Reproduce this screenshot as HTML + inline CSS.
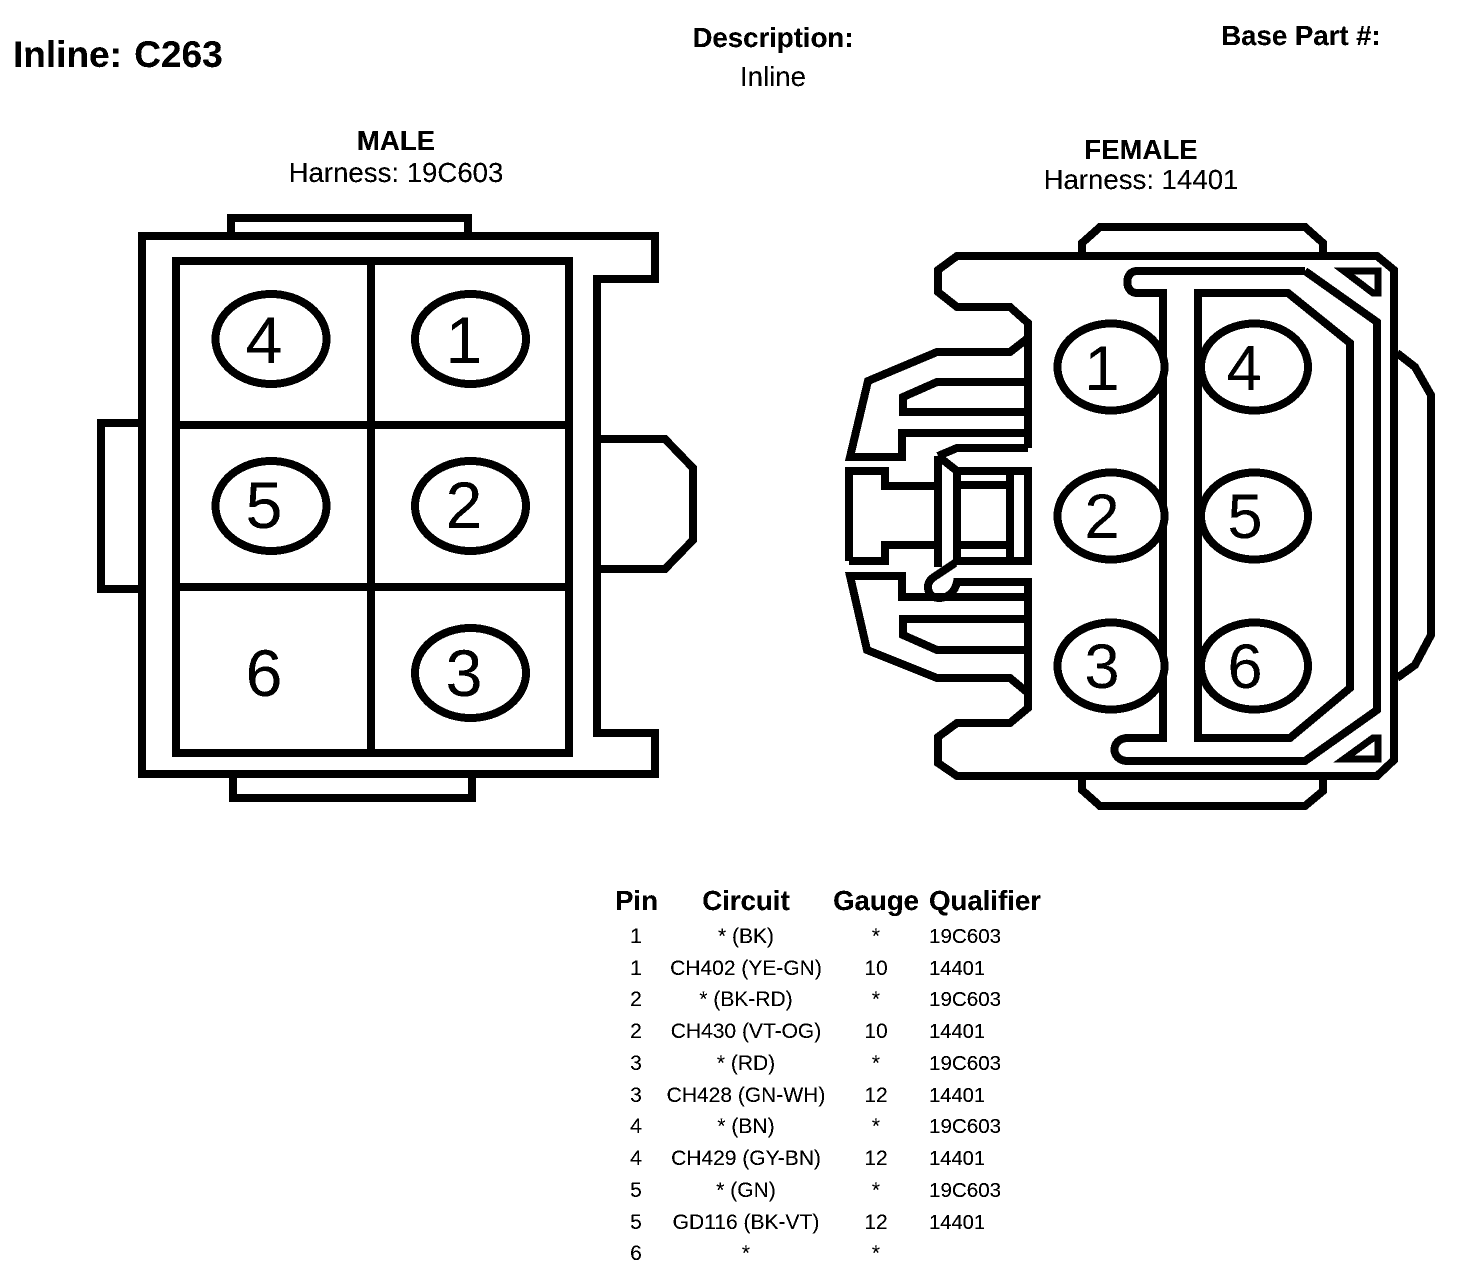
<!DOCTYPE html>
<html lang="en">
<head>
<meta charset="utf-8">
<title>Inline: C263</title>
<style>
html,body{margin:0;padding:0;background:#fff;width:1472px;height:1270px;overflow:hidden}
svg{display:block}
.l{fill:none;stroke:#000;stroke-width:8;stroke-linejoin:miter;stroke-linecap:butt;shape-rendering:crispEdges}
.c{fill:#fff;stroke:#000;stroke-width:8;shape-rendering:crispEdges}
text{font-family:"Liberation Sans",Arial,sans-serif;fill:#000}
.b{font-weight:bold}
.m{text-anchor:middle}
.d{font-size:66px;text-anchor:middle}
.f{font-size:63px;text-anchor:middle}
.h{font-size:27.6px}
.r{font-size:21px}
.q{font-size:20.6px}
.p{font-size:20.2px}
</style>
</head>
<body>
<svg width="1472" height="1270" viewBox="0 0 1472 1270" xmlns="http://www.w3.org/2000/svg">
<defs>
<filter id="t" x="0" y="0" width="100%" height="100%" filterUnits="objectBoundingBox" color-interpolation-filters="sRGB">
<feComponentTransfer><feFuncA type="discrete" tableValues="0 1 1"/></feComponentTransfer>
</filter>
</defs>
<rect width="1472" height="1270" fill="#fff"/>

<!-- MALE connector -->
<g>
<path class="l" d="M142 236 H655 V279 H597 V733 H655 V774 H142 Z"/>
<path class="l" d="M231 236 V218 H468 V236"/>
<path class="l" d="M233 774 V798 H472 V774"/>
<path class="l" d="M142 423 H101 V589 H142"/>
<path class="l" d="M597 439 H665 L693 468 V540 L665 569 H597"/>
<rect class="l" x="176" y="261" width="393" height="492"/>
<path class="l" d="M371 261 V753 M176 425 H569 M176 587 H569"/>
<ellipse class="c" cx="271" cy="339" rx="55.5" ry="45"/>
<ellipse class="c" cx="470.5" cy="339" rx="55.5" ry="45"/>
<ellipse class="c" cx="271" cy="506" rx="55.5" ry="45"/>
<ellipse class="c" cx="470.5" cy="506" rx="55.5" ry="45"/>
<ellipse class="c" cx="470.5" cy="673" rx="55.5" ry="45"/>
</g>

<!-- FEMALE connector -->
<g>
<path class="l" d="M1028 448 V323 L1010 307 H957 L938 292 V270 L957 256 H1377 L1394 270 V760 L1377 776 H957 L938 763 V737 L957 723 H1010 L1028 708 V693 L1010 678 H937 L867 650 L850 576 H902 V597 H1028"/>
<path class="l" d="M1028 448 H957 L938 456"/>
<path class="l" d="M1028 338 L1010 352 H937 L868 381 L850 457 H902 V433 H1028"/>
<path class="l" d="M1028 382 H937 L903 397 V412 H1028"/>
<path class="l" d="M1028 619 H903 V635 L937 650 H1028"/>
<path class="l" d="M1028 693 V582 H957 C955 592 948 598 939 598 C931 598 928 592 928 587 C928 581 932 578 937 575 L955 563"/>
<path class="l" d="M849 561 V471 H885 V486 H938"/>
<path class="l" d="M849 561 H885 V545 H938"/>
<path class="l" d="M938 456 V567"/>
<path class="l" d="M938 456 L957 471"/>
<path class="l" d="M957 561 V471 H1028 V561 Z"/>
<path class="l" d="M1010 471 V561 M957 485 H1010 M957 545 H1010"/>
<path class="l" d="M1082 256 V243 L1100 227 H1305 L1323 243 V256"/>
<path class="l" d="M1082 776 V790 L1100 806 H1305 L1323 791 V776"/>
<path class="l" d="M1305 271 H1137 C1124 271 1124 293 1137 293 H1163 V738 H1128 C1110 738 1110 761 1128 761 H1305 L1377 710 V322 L1305 271"/>
<path class="l" d="M1198 293 H1288 L1350 343 V688 L1290 738 H1198 Z"/>
<path class="l" style="stroke-width:7" d="M1344 271 H1378 V293 L1373 293 Z"/>
<path class="l" style="stroke-width:7" d="M1344 759 H1378 V738 L1373 738 Z"/>
<path class="l" d="M1397 353 L1415 367 L1431 395 V635 L1415 665 L1397 678"/>
<ellipse class="c" cx="1111" cy="367" rx="53.5" ry="43.5"/>
<ellipse class="c" cx="1254.500" cy="367" rx="53.5" ry="43.5"/>
<ellipse class="c" cx="1111" cy="516" rx="53.5" ry="43.5"/>
<ellipse class="c" cx="1254.500" cy="516" rx="53.5" ry="43.5"/>
<ellipse class="c" cx="1111" cy="666" rx="53.5" ry="43.500"/>
<ellipse class="c" cx="1254.500" cy="666" rx="53.5" ry="43.500"/>
</g>

<g filter="url(#t)">
<!-- pin digits -->
<text class="d" x="264" y="363">4</text>
<text class="d" x="464" y="363">1</text>
<text class="d" x="264" y="528">5</text>
<text class="d" x="464" y="528">2</text>
<text class="d" x="264" y="696">6</text>
<text class="d" x="464" y="696">3</text>
<text class="f" x="1102" y="390">1</text>
<text class="f" x="1244" y="390">4</text>
<text class="f" x="1102" y="538">2</text>
<text class="f" x="1245" y="538">5</text>
<text class="f" x="1102" y="688">3</text>
<text class="f" x="1245" y="688">6</text>

<!-- headings -->
<text class="b" x="13" y="67" style="font-size:37px;word-spacing:2px">Inline: C263</text>
<text class="b h m" x="773" y="47">Description:</text>
<text class="h m" x="773" y="86">Inline</text>
<text class="b h m" x="1301" y="45">Base Part #:</text>
<text class="b h m" x="396" y="150">MALE</text>
<text class="h m" x="396" y="182">Harness: 19C603</text>
<text class="b h m" x="1141" y="159">FEMALE</text>
<text class="h m" x="1141" y="189">Harness: 14401</text>

<!-- table header -->
<text class="b h m" x="636.500" y="910">Pin</text>
<text class="b h m" x="746" y="910">Circuit</text>
<text class="b h m" x="876" y="910">Gauge</text>
<text class="b h" x="929" y="910">Qualifier</text>

<!-- table rows -->
<g>
<text class="r m" x="636" y="943">1</text><text class="r m" x="746" y="943">* (BK)</text><text class="r m" x="876" y="943">*</text><text class="q" x="929" y="943">19C603</text>
<text class="r m" x="636" y="975">1</text><text class="r m" x="746" y="975">CH402 (YE-GN)</text><text class="r m" x="876" y="975">10</text><text class="p" x="929" y="975">14401</text>
<text class="r m" x="636" y="1006">2</text><text class="r m" x="746" y="1006">* (BK-RD)</text><text class="r m" x="876" y="1006">*</text><text class="q" x="929" y="1006">19C603</text>
<text class="r m" x="636" y="1038">2</text><text class="r m" x="746" y="1038">CH430 (VT-OG)</text><text class="r m" x="876" y="1038">10</text><text class="p" x="929" y="1038">14401</text>
<text class="r m" x="636" y="1070">3</text><text class="r m" x="746" y="1070">* (RD)</text><text class="r m" x="876" y="1070">*</text><text class="q" x="929" y="1070">19C603</text>
<text class="r m" x="636" y="1102">3</text><text class="r m" x="746" y="1102">CH428 (GN-WH)</text><text class="r m" x="876" y="1102">12</text><text class="p" x="929" y="1102">14401</text>
<text class="r m" x="636" y="1133">4</text><text class="r m" x="746" y="1133">* (BN)</text><text class="r m" x="876" y="1133">*</text><text class="q" x="929" y="1133">19C603</text>
<text class="r m" x="636" y="1165">4</text><text class="r m" x="746" y="1165">CH429 (GY-BN)</text><text class="r m" x="876" y="1165">12</text><text class="p" x="929" y="1165">14401</text>
<text class="r m" x="636" y="1197">5</text><text class="r m" x="746" y="1197">* (GN)</text><text class="r m" x="876" y="1197">*</text><text class="q" x="929" y="1197">19C603</text>
<text class="r m" x="636" y="1229">5</text><text class="r m" x="746" y="1229">GD116 (BK-VT)</text><text class="r m" x="876" y="1229">12</text><text class="p" x="929" y="1229">14401</text>
<text class="r m" x="636" y="1260">6</text><text class="r m" x="746" y="1260">*</text><text class="r m" x="876" y="1260">*</text>
</g>
</g>
</svg>
</body>
</html>
